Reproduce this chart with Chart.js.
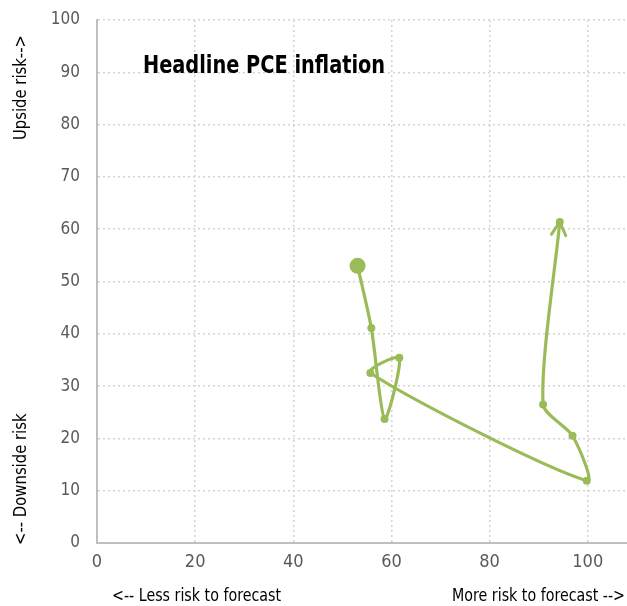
<!DOCTYPE html>
<html lang="en">
<head>
<meta charset="UTF-8">
<title>Headline PCE inflation</title>
<script src="https://cdn.jsdelivr.net/npm/chart.js"></script>
<style>
  html, body { margin: 0; padding: 0; background: #fff; overflow: hidden; }
  #wrap { width: 627px; height: 606px; overflow: hidden; }
</style>
</head>
<body>
<!-- canvas is a little wider than the window: Chart.js keeps a small gap at the right -->
<div id="wrap"><canvas id="riskChart" width="635" height="606"></canvas></div>
<script>
// risk path (first point = start, arrow = latest)
const xValues = [53.1, 55.9, 58.6, 61.6, 55.7, 99.8, 96.9, 90.9, 94.3];
const yValues = [53.0, 41.1, 23.7, 35.4, 32.5, 11.9, 20.5, 26.5, 61.4];
const xTicks = [0, 20, 40, 60, 80, 100];
const yTicks = [0, 10, 20, 30, 40, 50, 60, 70, 80, 90, 100];

const chartTitle = 'Headline PCE inflation';
const yTitleTop = 'Upside risk-->';
const yTitleBottom = '<-- Downside risk';
const xTitleLeft = '<-- Less risk to forecast';
const xTitleRight = 'More risk to forecast -->';

const green = '#9bbb59';
const narrow = "'Liberation Sans Narrow', 'DejaVu Sans Condensed', 'Arial Narrow', sans-serif";

const points = xValues.map((x, i) => ({ x: x, y: yValues[i] }));

// narrow-looking text: draw a bit taller and squeeze horizontally
function squeezed(ctx, text, x, y, align, sx) {
  ctx.save();
  ctx.translate(x, y);
  ctx.scale(sx, 1);
  ctx.textAlign = align;
  ctx.fillText(text, 0, 0);
  ctx.restore();
}

// texts and arrowhead drawn on top of the chart
const extras = {
  id: 'extras',
  afterDatasetsDraw(chart) {
    const ctx = chart.ctx;
    const area = chart.chartArea;
    const meta = chart.getDatasetMeta(0);
    const last = meta.data[meta.data.length - 1];

    // open arrowhead at the last point
    let dx = last.x - last.cp1x, dy = last.y - last.cp1y;
    if (!isFinite(dx) || (dx === 0 && dy === 0)) {
      const prev = meta.data[meta.data.length - 2];
      dx = last.x - prev.x; dy = last.y - prev.y;
    }
    const ang = Math.atan2(dy, dx);
    const len = 15;
    ctx.save();
    ctx.strokeStyle = green;
    ctx.lineWidth = 3;
    ctx.lineCap = 'round';
    ctx.beginPath();
    ctx.moveTo(last.x - len * Math.cos(ang - 0.5), last.y - len * Math.sin(ang - 0.5));
    ctx.lineTo(last.x, last.y);
    ctx.lineTo(last.x - len * Math.cos(ang + 0.5), last.y - len * Math.sin(ang + 0.5));
    ctx.stroke();

    // title inside the plot
    ctx.fillStyle = '#000';
    ctx.font = 'bold 25px ' + narrow;
    ctx.textBaseline = 'middle';
    squeezed(ctx, chartTitle, 143, 66, 'left', 0.86);

    // axis titles
    ctx.font = '18px ' + narrow;
    squeezed(ctx, xTitleLeft, area.left + 15, 596, 'left', 0.88);
    squeezed(ctx, xTitleRight, 625, 596, 'right', 0.88);

    ctx.save();
    ctx.translate(22, 0);
    ctx.rotate(-Math.PI / 2);
    ctx.font = '17px ' + narrow;
    squeezed(ctx, yTitleTop, -35, 0, 'right', 0.97);
    squeezed(ctx, yTitleBottom, -545, 0, 'left', 0.97);
    ctx.restore();
    ctx.restore();
  }
};

new Chart(document.getElementById('riskChart'), {
  type: 'scatter',
  data: {
    datasets: [{
      data: points,
      showLine: true,
      borderColor: green,
      backgroundColor: green,
      borderWidth: 3.2,
      tension: 0.25,
      pointRadius: ctx => ctx.dataIndex === 0 ? 8 : 4,
      pointBorderWidth: 0,
      pointHoverRadius: ctx => ctx.dataIndex === 0 ? 8 : 4
    }]
  },
  options: {
    responsive: false,
    animation: false,
    layout: { padding: { top: 20, right: 0, left: 0, bottom: 0 } },
    plugins: { legend: { display: false }, tooltip: { enabled: false } },
    scales: {
      x: {
        type: 'linear',
        min: 0,
        max: 108,
        afterBuildTicks: s => { s.ticks = xTicks.map(v => ({ value: v })); },
        afterFit: s => { s.height = 63; },
        ticks: { color: '#595959', padding: 9, font: { family: narrow, size: 18 } },
        grid: { color: '#d4d4d4', lineWidth: 1.5, drawTicks: false },
        border: { display: true, color: '#bfbfbf', width: 2, dash: [2, 3] }
      },
      y: {
        type: 'linear',
        min: 0,
        max: 100,
        afterBuildTicks: s => { s.ticks = yTicks.map(v => ({ value: v })); },
        afterFit: s => { s.width = 97; s.paddingTop = 0; s.paddingBottom = 0; },
        ticks: { color: '#595959', padding: 17, font: { family: narrow, size: 17 } },
        grid: { color: '#d4d4d4', lineWidth: 1.5, drawTicks: false },
        border: { display: true, color: '#bfbfbf', width: 2, dash: [2, 3] }
      }
    }
  },
  plugins: [extras]
});
</script>
</body>
</html>
